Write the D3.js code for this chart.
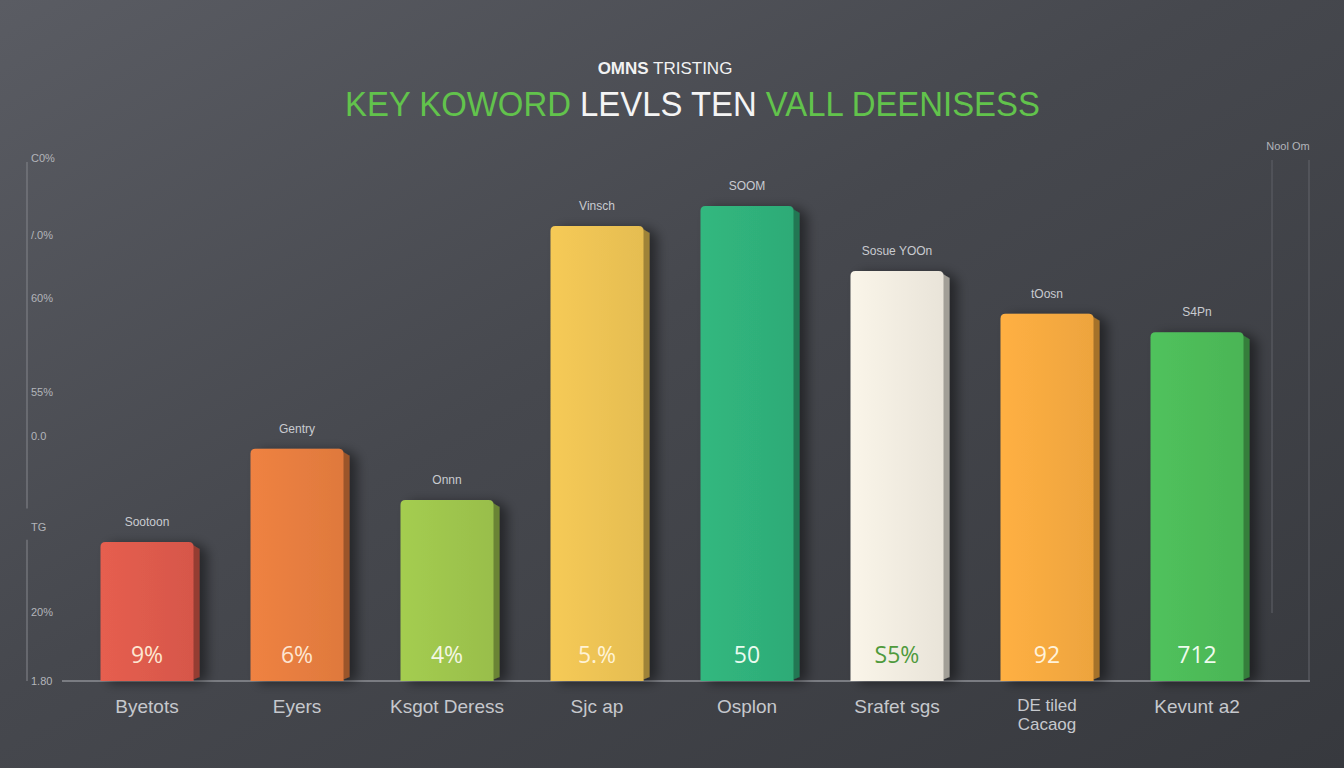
<!DOCTYPE html>
<html>
<head>
<meta charset="utf-8">
<script src="https://cdn.jsdelivr.net/npm/d3@7"></script>
<style>
  html,body{margin:0;padding:0;background:#404247;}
  svg{display:block;}
</style>
</head>
<body>
<svg id="chart" width="1344" height="768"></svg>
<script>
// ---- data ----
const categories = ["Byetots","Eyers","Ksgot Deress","Sjc ap","Osplon","Srafet sgs","DE tiled|Cacaog","Kevunt a2"];
const values = [26.6, 44.4, 34.6, 87.0, 90.8, 78.4, 70.2, 66.7];
const topLabels = ["Sootoon","Gentry","Onnn","Vinsch","SOOM","Sosue YOOn","tOosn","S4Pn"];
const valueLabels = ["9%","6%","4%","5.%","50","S5%","92","712"];
const barColors = ["#dc5a4c","#e57d3f","#9dc44d","#ecc253","#2fb07a","#f0ebdf","#f4a940","#4dba58"];
const valueLabelColors = ["#fde6d2","#fde6d2","#f4f7e4","#fff3d6","#e9fbef","#4f9a3c","#fff3dc","#eefbee"];
const yTickValues = [100, 85.3, 73.2, 55.3, 46.8, 29.4, 13.2, 0];
const yTickLabels = ["C0%","/.0%","60%","55%","0.0","TG","20%","1.80"];
const titleSmall = ["OMNS", " TRISTING"];
const titleParts = [["KEY KOWORD ", "green"], ["LEVLS TEN ", "white"], ["VALL DEENISESS", "green"]];
const cornerLabel = "Nool Om";

// ---- setup ----
const W = 1344, H = 768;
const svg = d3.select("#chart");
const defs = svg.append("defs");

const bg = defs.append("linearGradient").attr("id","bg").attr("x1","0").attr("y1","0").attr("x2","1").attr("y2","1");
bg.append("stop").attr("offset","0%").attr("stop-color","#5a5c63");
bg.append("stop").attr("offset","45%").attr("stop-color","#46484e");
bg.append("stop").attr("offset","100%").attr("stop-color","#37393e");
svg.append("rect").attr("width",W).attr("height",H).attr("fill","url(#bg)");

const shadow = defs.append("filter").attr("id","shadow").attr("x","-30%").attr("y","-10%").attr("width","160%").attr("height","130%");
shadow.append("feGaussianBlur").attr("in","SourceAlpha").attr("stdDeviation",6);
shadow.append("feOffset").attr("dx",8).attr("dy",2).attr("result","ob");
shadow.append("feComponentTransfer").append("feFuncA").attr("type","linear").attr("slope",0.45);
const fm = shadow.append("feMerge");
fm.append("feMergeNode");
fm.append("feMergeNode").attr("in","SourceGraphic");

// scales
const baseY = 681;
const y = d3.scaleLinear().domain([0,100]).range([baseY,158]);
const x = d3.scaleBand().domain(categories).range([72,1272]).paddingInner(0.38).paddingOuter(0.19);

// title
svg.append("text").attr("x",665).attr("y",74).attr("text-anchor","middle")
  .attr("font-family","Liberation Sans, Arial, sans-serif").attr("font-size",17).attr("fill","#f2f2f2")
  .selectAll("tspan").data(titleSmall).join("tspan")
  .attr("font-weight",(d,i)=>i===0?"bold":"normal").text(d=>d);

const tg = svg.append("g");
const tt = tg.append("text").attr("x",0).attr("y",0)
  .attr("font-family","Liberation Sans, Arial, sans-serif").attr("font-size",36);
tt.selectAll("tspan").data(titleParts).join("tspan")
  .attr("fill",d=>d[1]==="green"?"#62c34c":"#f4f4f4").text(d=>d[0]);
const tw = tt.node().getComputedTextLength();
tg.attr("transform",`translate(345,116) scale(${695/tw},1)`);

// y axis (decorative frame)
const yAxis = d3.axisLeft(y).tickValues(yTickValues).tickSize(0).tickFormat((d,i)=>yTickLabels[i]);
const ya = svg.append("g").attr("transform","translate(27,0)").call(yAxis);
ya.select(".domain").remove();
ya.selectAll("text").attr("x",4).attr("text-anchor","start")
  .attr("font-family","Liberation Sans, Arial, sans-serif").attr("font-size",11).attr("fill","#b3b5ba");
svg.append("line").attr("x1",27).attr("x2",27).attr("y1",y(100)+4).attr("y2",y(33)).attr("stroke","#7c7e84").attr("stroke-width",1.2);
svg.append("line").attr("x1",27).attr("x2",27).attr("y1",y(27)).attr("y2",baseY).attr("stroke","#7c7e84").attr("stroke-width",1.2);

// right lines
svg.append("line").attr("x1",1272).attr("x2",1272).attr("y1",y(100)+2).attr("y2",y(13)).attr("stroke","#5b5d63").attr("stroke-width",1.2);
svg.append("line").attr("x1",1309).attr("x2",1309).attr("y1",y(100)+2).attr("y2",baseY).attr("stroke","#5e6066").attr("stroke-width",1.2);
svg.append("text").attr("x",1288).attr("y",150).attr("text-anchor","middle")
  .attr("font-family","Liberation Sans, Arial, sans-serif").attr("font-size",11).attr("fill","#b3b5ba").text(cornerLabel);

// baseline
svg.append("line").attr("x1",62).attr("x2",1310).attr("y1",baseY).attr("y2",baseY).attr("stroke","#7a7c82").attr("stroke-width",2);

// bars
const bw = x.bandwidth();
const g = svg.append("g");
categories.forEach((c,i)=>{
  const col = barColors[i];
  const x0 = x(c), y0 = y(values[i]);
  const grad = defs.append("linearGradient").attr("id","bg"+i).attr("x1","0").attr("y1","0").attr("x2","1").attr("y2","0");
  grad.append("stop").attr("offset","0%").attr("stop-color",d3.color(col).brighter(0.12));
  grad.append("stop").attr("offset","100%").attr("stop-color",d3.color(col).darker(0.08));
  const bar = g.append("g").attr("filter","url(#shadow)");
  bar.append("path")
    .attr("d",`M${x0+bw-4},${y0+1} L${x0+bw+6},${y0+7} L${x0+bw+6},${baseY-4} L${x0+bw-4},${baseY} Z`)
    .attr("fill",d3.color(col).darker(1.1));
  bar.append("path")
    .attr("d",`M${x0},${baseY} L${x0},${y0+5} Q${x0},${y0} ${x0+5},${y0} L${x0+bw-5},${y0} Q${x0+bw},${y0} ${x0+bw},${y0+5} L${x0+bw},${baseY} Z`)
    .attr("fill",`url(#bg${i})`);
  g.append("text").attr("x",x0+bw/2).attr("y",y0-16).attr("text-anchor","middle")
    .attr("font-family","Liberation Sans, Arial, sans-serif").attr("font-size",12).attr("fill","#c9cbd0").text(topLabels[i]);
  g.append("text").attr("x",x0+bw/2).attr("y",baseY-18).attr("text-anchor","middle")
    .attr("font-family","Open Sans, DejaVu Sans, Arial, sans-serif").attr("font-size",23).attr("fill",valueLabelColors[i]).text(valueLabels[i]);
  const lines = c.split("|");
  lines.forEach((l,j)=>{
    svg.append("text").attr("x",x0+bw/2).attr("y",(lines.length>1?711:713)+j*19).attr("text-anchor","middle")
      .attr("font-family","Liberation Sans, Arial, sans-serif").attr("font-size",lines.length>1?17:19).attr("fill","#c6c8cd").text(l);
  });
});
</script>
</body>
</html>
